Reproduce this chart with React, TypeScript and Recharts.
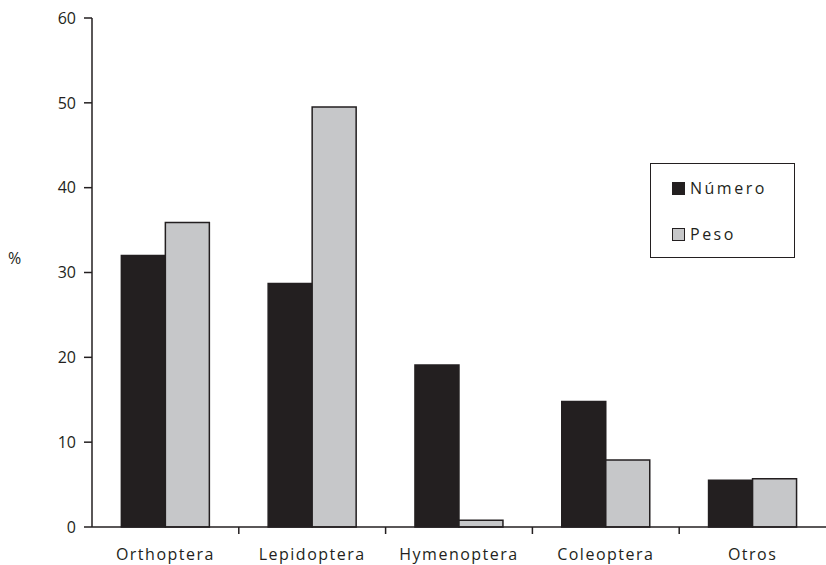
import React from 'react';
import { BarChart, Bar, XAxis, YAxis } from 'recharts';

const categories = ['Orthoptera', 'Lepidoptera', 'Hymenoptera', 'Coleoptera', 'Otros'];
const numero = [32.0, 28.7, 19.1, 14.8, 5.5];
const peso = [35.9, 49.5, 0.8, 7.9, 5.7];
const yTicks = [0, 10, 20, 30, 40, 50, 60];

const data = categories.map((name, i) => ({ name, numero: numero[i], peso: peso[i] }));

const FONT = '"Open Sans", "DejaVu Sans", sans-serif';
const DARK = '#231f20';
const LIGHT = '#c6c7c9';

// category label plus a separator tick at the right edge of each band
const CategoryTick = (props: any) => {
    const { x, y, payload, index } = props;
    const half = payload && payload.offset ? payload.offset : 73.4;
    return (
        <g>
            {index < categories.length - 1 && (
                <line x1={x + half} x2={x + half} y1={y - 8} y2={y - 1} stroke={DARK} strokeWidth={1.5} />
            )}
            <text
                x={x}
                y={y + 25}
                textAnchor="middle"
                fill={DARK}
                fontSize={16}
                fontFamily={FONT}
                letterSpacing={1.5}
            >
                {payload.value}
            </text>
        </g>
    );
};

const LegendBox = () => (
    <div
        style={{
            position: 'absolute',
            left: 650,
            top: 163,
            width: 145,
            height: 95,
            boxSizing: 'border-box',
            border: `1.5px solid ${DARK}`,
            background: '#fff',
            fontFamily: FONT,
            fontSize: 16,
            color: DARK,
        }}
    >
        {[
            { label: 'Número', fill: DARK, top: 16 },
            { label: 'Peso', fill: LIGHT, top: 62 },
        ].map(item => (
            <div
                key={item.label}
                style={{ position: 'absolute', left: 21, top: item.top, display: 'flex', alignItems: 'center' }}
            >
                <span
                    style={{
                        display: 'inline-block',
                        width: 11,
                        height: 11,
                        background: item.fill,
                        border: `1.5px solid ${DARK}`,
                        marginRight: 5,
                    }}
                />
                <span style={{ letterSpacing: 2.5, lineHeight: '16px' }}>{item.label}</span>
            </div>
        ))}
    </div>
);

export default function App() {
    return (
        <div style={{ position: 'absolute', left: 0, top: 0, width: 826, height: 565, background: '#fff' }}>
            <BarChart
                width={826}
                height={565}
                data={data}
                margin={{ top: 18, right: 0, left: 0, bottom: 0 }}
                barCategoryGap="20%"
                barGap={0}
            >
                <XAxis
                    dataKey="name"
                    height={38}
                    axisLine={{ stroke: DARK, strokeWidth: 1.5 }}
                    tickLine={false}
                    tick={<CategoryTick />}
                    interval={0}
                />
                <YAxis
                    width={92}
                    domain={[0, 60]}
                    ticks={yTicks}
                    axisLine={{ stroke: DARK, strokeWidth: 1.5 }}
                    tickLine={{ stroke: DARK, strokeWidth: 1.5 }}
                    tickSize={8}
                    tickMargin={8}
                    tick={{ fill: DARK, fontSize: 16, fontFamily: FONT }}
                    label={{
                        value: '%',
                        position: 'insideLeft',
                        offset: 8,
                        dy: -14,
                        style: { fill: DARK, fontSize: 16, fontFamily: FONT },
                    }}
                />
                <Bar dataKey="numero" name="Número" fill={DARK} stroke={DARK} strokeWidth={1.5} isAnimationActive={false} />
                <Bar dataKey="peso" name="Peso" fill={LIGHT} stroke={DARK} strokeWidth={1.5} isAnimationActive={false} />
            </BarChart>
            <LegendBox />
        </div>
    );
}
